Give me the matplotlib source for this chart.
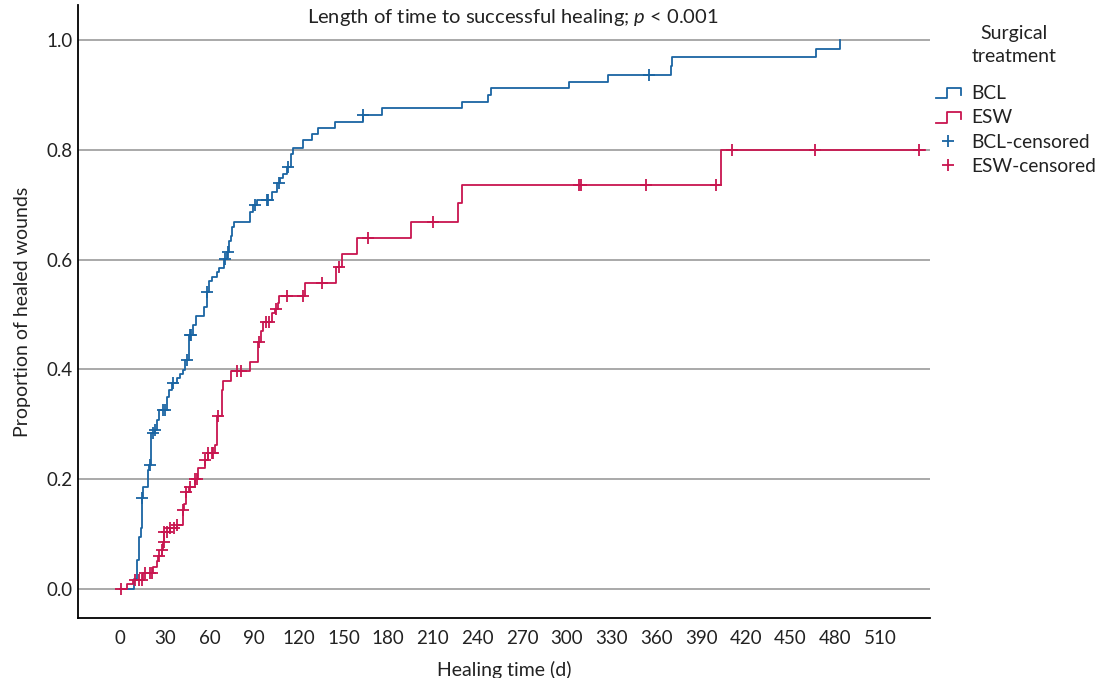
import numpy as np
import matplotlib
matplotlib.use('Agg')
import matplotlib.pyplot as plt
from matplotlib.lines import Line2D
from matplotlib.legend_handler import HandlerBase

plt.rcParams['font.family'] = ['Lato', 'DejaVu Sans']
plt.rcParams['mathtext.fontset'] = 'custom'
plt.rcParams['mathtext.it'] = 'Lato:italic'
plt.rcParams['mathtext.rm'] = 'Lato'

# ---------------- data ----------------
bcl_times = [0, 9.6, 11.2, 12.5, 13.9, 14.5, 15.7, 19.0, 19.7, 20.8, 23.5, 24.6, 26.2,
             31.8, 33.1, 34.7, 38.0, 40.3, 42.5, 43.8, 46.5, 49.2, 51.0, 56.4, 58.2,
             60.0, 61.5, 64.9, 66.7, 69.8, 71.6, 73.2, 74.3, 75.0, 76.7, 87.2, 89.0,
             91.7, 101.8, 105.2, 107.4, 109.6, 111.9, 114.5, 115.9, 122.6, 128.6, 133.0,
             144.3, 162.9, 175.6, 229.3, 247.2, 248.8, 301.6, 327.7, 369.6, 370.5, 467.0, 483.0]
bcl_props = [0.0, 0.017, 0.053, 0.095, 0.110, 0.166, 0.186, 0.217, 0.226, 0.284, 0.290, 0.308, 0.326,
             0.350, 0.362, 0.375, 0.384, 0.392, 0.399, 0.417, 0.463, 0.481, 0.497, 0.514, 0.541,
             0.560, 0.568, 0.577, 0.585, 0.601, 0.613, 0.633, 0.643, 0.660, 0.669, 0.687, 0.700,
             0.709, 0.724, 0.740, 0.749, 0.756, 0.769, 0.793, 0.804, 0.818, 0.828, 0.839,
             0.851, 0.863, 0.876, 0.888, 0.900, 0.913, 0.924, 0.937, 0.953, 0.970, 0.983, 1.0]
bcl_censored = [14.6, 20.1, 21.9, 23.6, 28.6, 30.2, 35.3, 45.2, 47.0, 47.6, 58.3, 70.5, 72.7,
                90.6, 98.5, 99.3, 106.7, 113.0, 163.0, 355.0]

esw_times = [0, 4.5, 9.0, 15.7, 22.4, 24.6, 25.7, 28.0, 29.1, 29.7, 33.6, 38.0, 42.5, 43.0,
             44.5, 46.0, 50.0, 52.6, 57.0, 59.3, 63.8, 65.3, 68.2, 69.4, 74.3, 87.2, 92.8,
             94.6, 96.2, 101.8, 104.0, 106.3, 106.9, 124.2, 144.8, 149.2, 159.3, 195.5,
             227.0, 229.3, 403.0, 540.0]
esw_props = [0.0, 0.008, 0.015, 0.029, 0.040, 0.050, 0.059, 0.071, 0.085, 0.104, 0.110, 0.117,
             0.144, 0.155, 0.177, 0.186, 0.200, 0.220, 0.235, 0.248, 0.262, 0.314, 0.362, 0.378,
             0.396, 0.414, 0.450, 0.469, 0.487, 0.502, 0.510, 0.520, 0.534, 0.557, 0.586, 0.611,
             0.639, 0.669, 0.703, 0.735, 0.800, 0.800]
esw_censored = [0.5, 10.0, 13.0, 14.6, 16.8, 20.0, 21.3, 26.4, 28.0, 29.2, 29.8, 31.3, 33.6,
                36.5, 38.0, 42.6, 44.6, 47.0, 50.3, 51.9, 57.0, 59.3, 61.5, 62.6, 65.5, 78.7,
                81.0, 93.3, 98.0, 100.0, 105.0, 112.3, 123.0, 135.3, 147.2, 166.7, 210.0, 308.0,
                309.2, 352.8, 400.0, 411.0, 466.4, 536.5]

x_ticks = list(range(0, 511, 30))
y_ticks = [0.0, 0.2, 0.4, 0.6, 0.8, 1.0]
series_names = ['BCL', 'ESW', 'BCL-censored', 'ESW-censored']
legend_title = 'Surgical\ntreatment'
title_text = 'Length of time to successful healing; $p$ < 0.001'

BLUE = '#1a65a3'
RED = '#c8154f'
TXT = '#222222'


def step_value(times, props, t):
    idx = np.searchsorted(np.asarray(times), t, side='right') - 1
    return np.asarray(props)[idx]


class StepHandler(HandlerBase):
    def create_artists(self, legend, orig_handle, xdescent, ydescent, width, height, fontsize, trans):
        x0, y0 = -xdescent, -ydescent
        xs = [x0, x0 + 0.45 * width, x0 + 0.45 * width, x0 + width, x0 + width]
        ys = [y0 + 0.05 * height, y0 + 0.05 * height, y0 + 0.85 * height,
              y0 + 0.85 * height, y0 + 0.3 * height]
        ln = Line2D(xs, ys, color=orig_handle.get_color(), lw=orig_handle.get_linewidth(),
                    transform=trans)
        return [ln]


fig = plt.figure(figsize=(10.99, 6.78), dpi=100)
ax = fig.add_axes([78 / 1099, 1 - 618 / 678, (930 - 78) / 1099, (618 - 5) / 678])

ax.set_xlim(-28.2, 543.6)
ax.set_ylim(-0.0534, 1.064)

for yv in y_ticks:
    ax.axhline(yv, color='#a3a3a3', lw=1.3, zorder=0)

l_bcl, = ax.step(bcl_times, bcl_props, where='post', color=BLUE, lw=1.3, zorder=3)
l_esw, = ax.step(esw_times, esw_props, where='post', color=RED, lw=1.3, zorder=3)

c_bcl, = ax.plot(bcl_censored, step_value(bcl_times, bcl_props, bcl_censored), ls='none',
                 marker='+', ms=9, mew=1.3, color=BLUE, zorder=4)
c_esw, = ax.plot(esw_censored, step_value(esw_times, esw_props, esw_censored), ls='none',
                 marker='+', ms=9, mew=1.3, color=RED, zorder=4)

ax.set_xticks(x_ticks)
ax.set_yticks(y_ticks)
ax.set_yticklabels([f'{v:.1f}' for v in y_ticks])
ax.tick_params(axis='both', length=0, labelsize=13.5, colors=TXT)
ax.tick_params(axis='y', pad=4)
ax.tick_params(axis='x', pad=9)

for s in ['top', 'right']:
    ax.spines[s].set_visible(False)
for s in ['left', 'bottom']:
    ax.spines[s].set_linewidth(1.3)
    ax.spines[s].set_color('black')

ax.set_xlabel('Healing time (d)', fontsize=14, color=TXT, labelpad=10)
ax.set_ylabel('Proportion of healed wounds', fontsize=14, color=TXT, labelpad=11)

ax.text(0.51, 0.979, title_text, transform=ax.transAxes, ha='center', va='center',
        fontsize=14.5, color=TXT)

fig.text(1014 / 1099, 1 - 25 / 678, legend_title, ha='center', va='top',
         fontsize=14, color=TXT, linespacing=1.45)

leg = ax.legend([l_bcl, l_esw, c_bcl, c_esw], series_names,
                handler_map={l_bcl: StepHandler(), l_esw: StepHandler()},
                loc='upper left',
                bbox_to_anchor=(936 / 1099, 1 - 85 / 678), bbox_transform=fig.transFigure,
                frameon=False, fontsize=13.8,
                handlelength=1.3, handletextpad=0.55, labelspacing=0.38,
                borderpad=0, borderaxespad=0)
for t in leg.get_texts():
    t.set_color(TXT)

fig.savefig('out.png', dpi=100)
